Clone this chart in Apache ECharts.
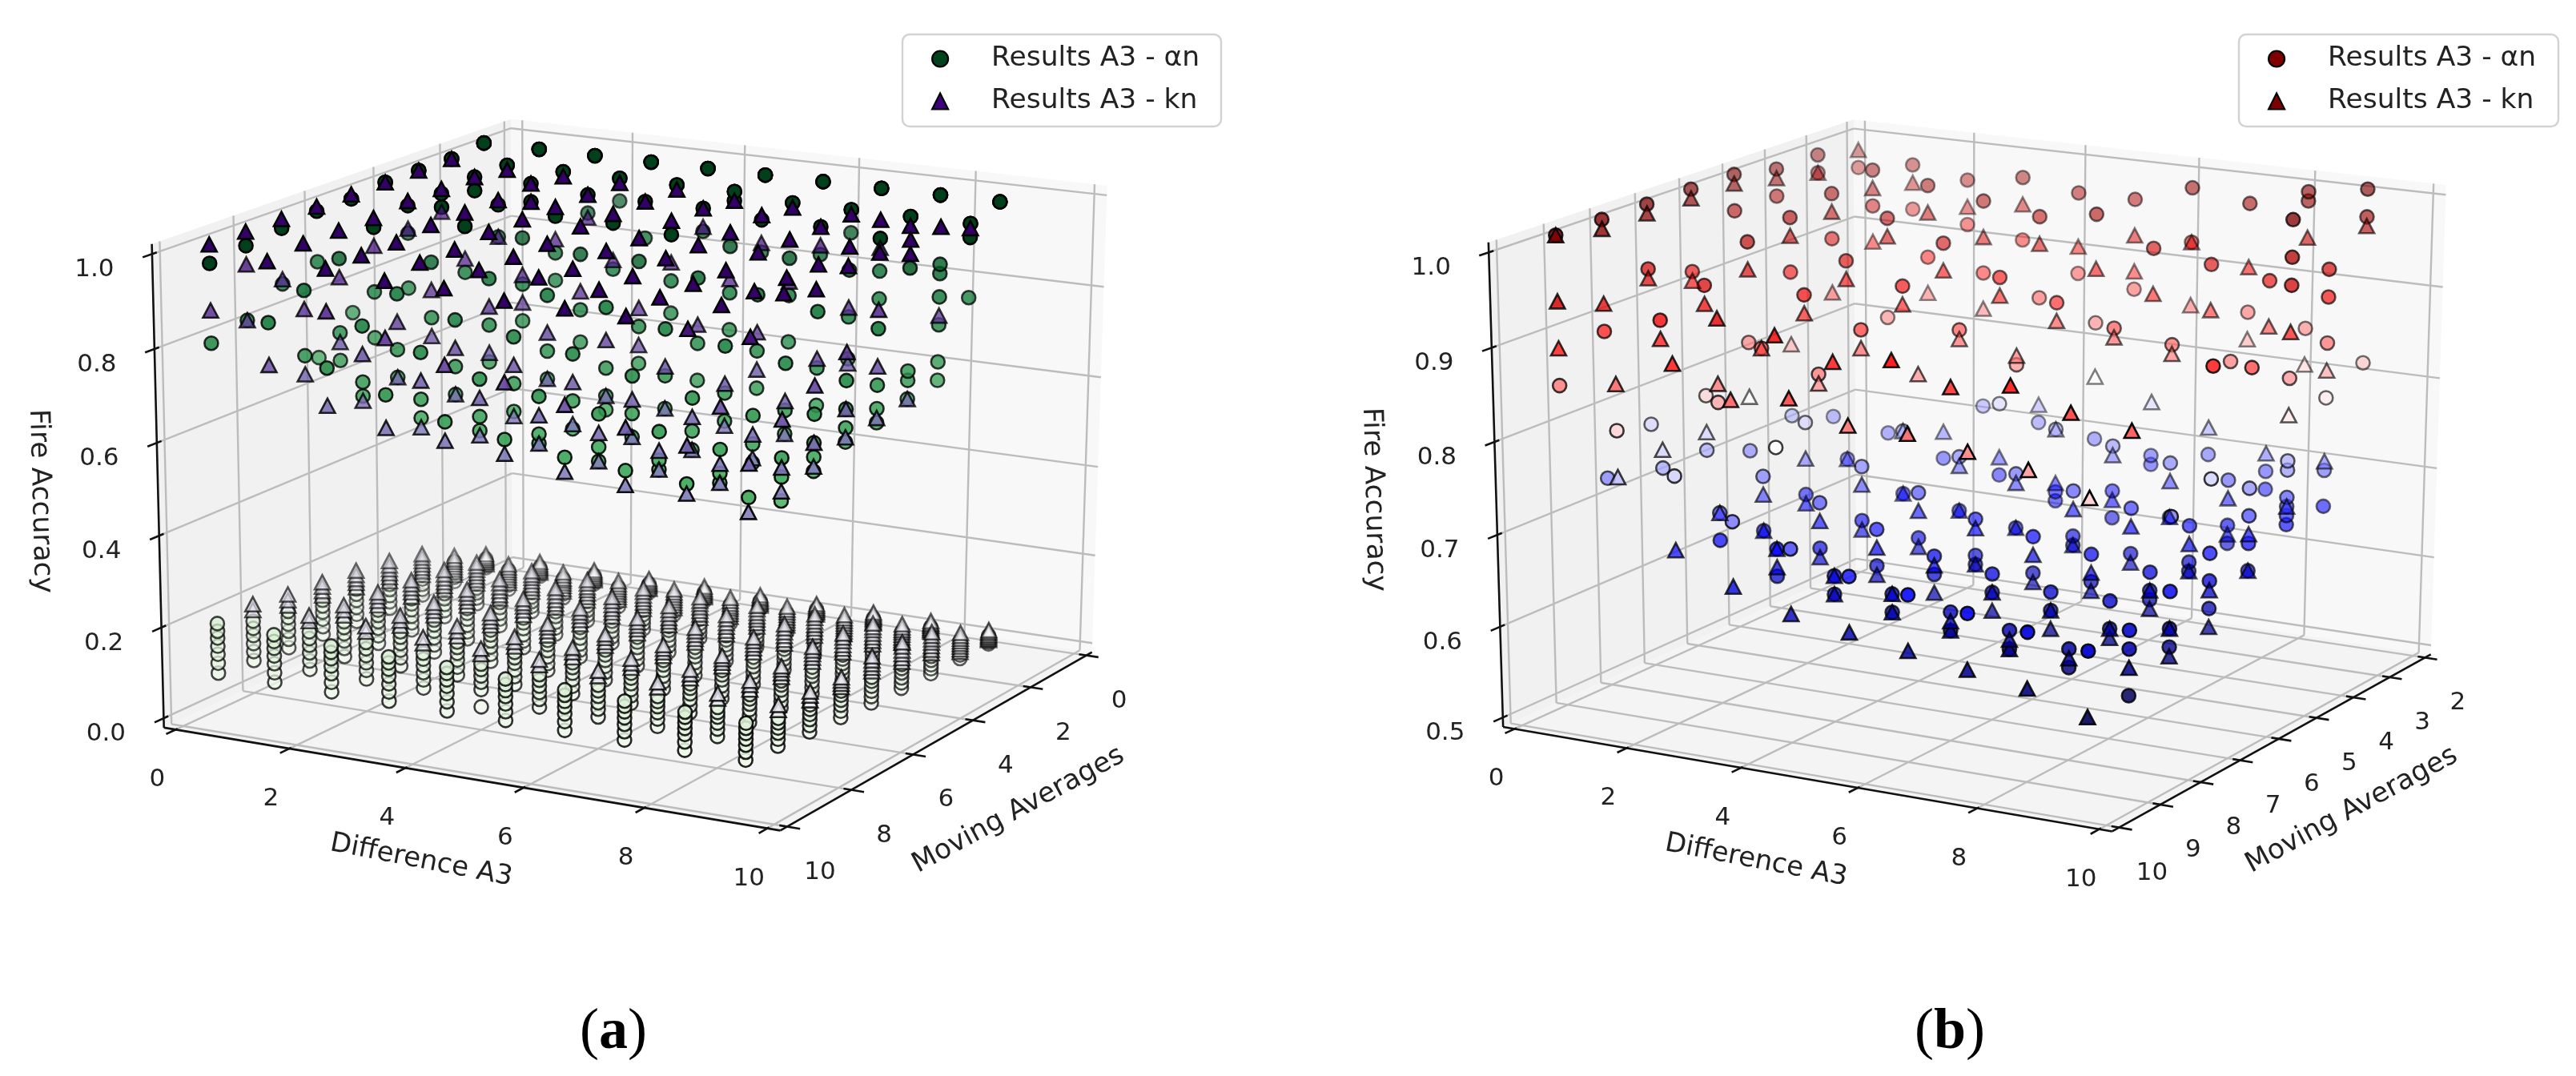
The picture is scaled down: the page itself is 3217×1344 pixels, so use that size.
<!DOCTYPE html>
<html><head><meta charset="utf-8">
<style>html,body{margin:0;padding:0;background:#fff}#c{width:3217px;height:1344px}</style>
<script src="https://cdn.jsdelivr.net/npm/echarts@6/dist/echarts.min.js"></script>
</head><body><div id="c"></div>
<script>
// ---------- tick labels ----------
const xTicks=[0,2,4,6,8,10];
const yTicksA=[0,2,4,6,8,10];
const zTicksA=[0,0.2,0.4,0.6,0.8,1.0];
const yTicksB=[2,3,4,5,6,7,8,9,10];
const zTicksB=[0.5,0.6,0.7,0.8,0.9,1.0];
const seriesNames=['Results A3 - αn','Results A3 - kn'];
// ---------- data: rows are Moving Averages, columns are Difference A3 = 0..9 ----------
// Panel (a), upper cloud, Fire Accuracy x100, rows start at Moving Averages = 1
const aCirclesHigh=[
[[100,100,100],[100,100,100],[100,100,100],[100,100,100],[100,100,100],[100,100,100],[100,100,100],[100,100,100],[100,100,100],[100,100,100]],
[[99,99],[99,99],[99,99],[99,99,94],[99,99],[99,99,97],[98,98],[98,98,93],[98,98],[98,98,95,82]],
[[99,99],[99,96],[99,95],[98,94],[98,90],[98,93],[97,90],[97,91],[96,89,83],[92,90,85,79,71,67]],
[[99,99],[98,95],[97,90],[96,88,82],[96,86],[95,85,78],[94,84,76],[93,85,75],[92,82,73],[94,72,70,66]],
[[98,98,73],[98,92,80],[95,85],[94,84,76],[92,80,73],[92,78,70],[90,76,68],[88,76,68],[86,74,66],[84,72,67,64]],
[[98,87,66],[96,82,72],[90,78],[88,78,70],[86,74,68],[85,72,66,63],[82,72,65],[80,70,64],[78,68,63],[76,70,66,63]],
[[97,85],[92,76,70],[86,74,68],[82,72,66],[80,70,64],[78,68,62],[75,67,62],[72,65,61],[70,64,60],[72,66,63,60]],
[[96,80],[88,74],[82,70,67],[78,68,64],[74,66,63],[72,64,62],[70,63,60],[68,62,60],[66,61,59],[66,62,57]],
[[95,78],[84],[76],[72],[68],[66],[64],[63],[62],[61]]];
const aTrianglesHigh=[
[[],[],[],[],[],[],[],[],[],[]],
[[99],[98],[98],[98],[98],[97],[97],[97],[96],[97]],
[[99],[99],[99,95],[98,93],[98],[98,94],[98,92],[97,93],[100,94],[100,81]],
[[99],[99,94],[98,90],[98,91],[98,88],[98,89],[97,87],[97,88],[97,84,72],[100,97,66]],
[[99],[99,93],[98,88],[98,86,80],[98,84],[97,82,74],[97,80],[97,80,72],[96,76],[100,88,76,65]],
[[99],[98,92],[98,84,74],[98,82,72],[97,78,68],[97,78,66],[97,74,65],[96,72,63],[96,70,63],[100,82,70,64]],
[[99,86],[98,88,74],[97,80,68],[97,76,66],[97,74,63],[96,72,63],[96,70,62],[96,68,61],[96,66,61],[98,78,66,61]],
[[99,92,80],[98,84,70],[97,76,66],[97,72,62],[97,70,62],[97,68,62],[96,66,60],[96,64,60],[96,75,63,59],[100,74,64,59]],
[[99,85],[97,75],[97,88,68],[96,84,65],[96,80,64],[95,78,63],[95,75,61],[95,72,60],[94,70,60],[94,68,58]]];
// Panel (a), lower cloud, Fire Accuracy x1000
const aCirclesLow=[
[[20,25,29,33,37,41],[19,24,28,32,36,40],[20,24,29,33,36,40],[19,23,27,31,35,39],[18,23,27,32,35,39],[19,23,28,31,35,38],[18,22,27,30,34,38],[18,23,26,30,33,37],[18,22,26,29,33,36],[17,21,25,29,32,36]],
[[22,32,42,51,60,68],[23,33,42,52,60,67],[22,31,41,50,59,66],[21,31,40,49,57,65],[22,30,40,48,56,64],[21,30,39,47,56,63],[20,30,38,46,55,62],[21,29,38,46,54,61],[20,29,37,45,53,60],[20,28,36,44,52,59]],
[[25,38,50,62,72,82],[24,37,49,60,71,80],[25,37,48,59,70,79],[24,36,47,58,69,78],[24,36,46,57,67,76],[23,35,46,56,66,75],[23,34,45,55,65,74],[23,34,44,54,64,72],[22,33,43,53,62,71],[22,33,42,52,61,70]],
[[29,44,58,72,84,95],[29,43,57,70,82,93],[28,43,56,69,81,91],[28,42,55,68,79,89],[28,41,54,66,77,87],[27,41,53,65,76,85],[27,40,52,63,74,84],[27,39,51,62,73,82],[26,39,50,61,71,80],[26,38,49,60,70,79]],
[[34,50,66,82,96,108],[34,50,65,80,93,105],[33,49,64,78,91,102],[33,48,62,76,89,100],[32,47,61,74,87,98],[32,47,60,73,85,96],[31,46,59,72,83,93],[31,45,58,70,81,91],[30,44,57,69,79,89],[30,44,56,67,78,87]],
[[40,57,74,90,104,117],[39,56,73,88,102,114],[39,55,71,86,100,111],[38,54,70,84,97,108],[38,53,68,82,95,105],[37,53,67,80,92,103],[37,52,65,78,90,100],[36,51,64,77,88,98],[36,50,63,75,86,95],[35,49,62,73,84,93]],
[[45,64,82,98,113,127],[45,63,80,96,110,123],[44,62,79,94,108,120],[44,61,77,92,105,117],[43,60,75,90,102,114],[43,59,74,88,100,111],[42,58,72,85,97,108],[42,57,71,83,95,105],[41,56,69,81,92,102],[41,55,68,79,90,100]],
[[52,72,90,108,124,140],[52,71,89,106,121,136],[51,70,87,103,118,132],[51,69,85,101,115,128],[30,68,84,98,112,124],[50,67,82,96,109,121],[49,66,80,94,106,118],[49,65,79,92,103,114],[48,64,77,90,100,111],[48,63,76,87,98,108]],
[[60,82,102,120,138,153,170],[60,81,101,118,135,150,165],[59,80,99,116,132,146,160],[59,79,97,114,129,143,156],[58,78,96,112,126,140,153],[58,77,94,110,123,136,148],[57,76,93,108,120,133,145],[57,75,91,105,118,130,141],[56,74,90,103,115,127,138],[56,73,88,101,113,124,135]]];
const aTrianglesLow=[
[[28,31,34,37,40,43,47,52],[27,30,33,37,40,44,48,53],[28,31,34,37,41,44,48,52],[27,30,34,37,40,43,47,51],[27,30,33,36,40,43,47,52],[27,30,33,36,39,43,46,51],[26,30,33,36,39,42,46,50],[26,29,33,36,39,42,46,50],[26,29,32,35,39,42,45,50],[26,29,32,35,38,42,45,49]],
[[38,44,50,56,62,68,74,82],[38,44,50,56,62,68,74,81],[37,43,50,56,62,67,74,81],[37,43,49,55,61,67,73,80],[37,43,49,55,61,67,73,80],[36,43,49,55,60,66,73,80],[36,42,48,54,60,66,72,79],[36,42,48,54,60,66,72,79],[36,42,48,54,60,65,71,78],[35,41,47,53,59,65,71,78]],
[[72,80,88,96,104,112,120],[71,79,87,95,103,111,119],[71,79,87,95,103,110,118],[70,78,86,94,101,109,117],[70,78,85,93,101,109,117],[69,77,85,93,101,108,116],[69,77,85,92,100,108,116],[68,76,84,92,100,108,116],[68,76,84,92,100,107,115],[68,76,84,92,99,107,115]],
[[92,101,110,119,128,138],[91,100,108,117,126,136],[90,98,107,116,125,134],[89,97,106,115,124,133],[88,97,105,114,123,132],[88,96,104,113,122,131],[87,95,104,112,121,130],[86,94,103,111,120,129],[86,94,102,111,119,128],[85,93,102,110,119,128]],
[[112,122,131,140,150],[110,120,129,138,147],[109,118,127,136,145],[107,117,126,134,143],[106,115,124,132,141],[105,114,122,130,139],[104,112,121,129,137],[102,111,119,127,135],[101,110,118,126,134],[100,108,116,124,133]],
[[128,138,148,158],[125,135,145,154],[122,132,141,150],[119,128,137,146],[116,125,134,142],[113,121,130,138],[110,118,126,134],[107,115,123,130],[104,112,120,127],[102,109,116,123]],
[[140,152,165],[137,149,160],[134,145,156],[130,141,152],[127,137,148],[123,134,144],[120,130,140],[117,126,136],[113,123,132],[110,120,129]],
[[165,178],[160,172],[156,168],[150,163],[146,158],[142,154],[138,150],[134,145],[130,141],[126,137]],
[[],[],[],[],[],[],[],[],[],[]]];
// Panel (b), Fire Accuracy x100, rows start at Moving Averages = 2
const bCircles=[
[[96],[97,92],[96,91],[97,90],[96,87],[96,86],[98,92],[97,85],[99,98,84],[100,97,81]],
[[99,97],[98,94],[97,89],[96,88,73],[95,86,72],[96,84,71],[93,70,69],[92,71],[91,70,68],[93,90,85,79,71,67]],
[[99,96],[97,92,72],[95,84,71],[93,69],[90,76,68],[88,74,67,66],[86,73,68,65],[85,72,66],[84,71,66,64],[100,96,93,83,74,73,70,69,68,67]],
[[100,96],[96,90,74],[92,70],[90,74,67],[86,72,66],[83,71,65],[70,65,64],[69,64],[68,64,63],[86,73,70,67,64]],
[[100,91],[95,84,72],[90,76,68],[87,72,66],[70,65],[68,64,63],[67,63],[66,63],[65,63,62],[88,76,68,65,62]],
[[100,93,76],[92,80,74],[86,72,66],[84,70,65],[68,64],[66,64],[65,63],[64,62],[64,61],[74,66,62,60]],
[[100,88,72],[90,74],[82,70,67],[78,67,64],[65,63],[64,62],[63,61],[62,60],[61,59],[64,62,57]],
[[100,84],[80],[76],[72],[70],[68],[67],[66],[65],[64]]];
const bTriangles=[
[[98],[95],[93],[94],[90],[92,88],[92,85],[90,82],[94,80],[96]],
[[97],[96,90],[94,85],[92,84],[92,74],[90,78],[88,76],[87,74],[86,72],[82,72]],
[[98],[95,86],[93],[90,72],[88,70],[86,74,68],[85,72,67],[84,70,66],[69,65],[88,79,69]],
[[99],[94,82],[90,70],[88,74,67],[85,71,66],[84,70,65],[68,64],[67,63],[66,63],[68,64]],
[[99,90],[92,78],[88,72,67],[85,70,65],[83,68,64],[67,63],[65,62],[64,62],[63,61],[64,60]],
[[99,92],[90,76],[86,70,66],[83,68,64],[66,63],[65,62],[63,61],[62,60],[61,60],[62,59]],
[[99,91],[88,76],[91,84,70],[90,67,65],[88,65,63],[89,64,62],[87,62,61],[88,61,60],[86,60],[85,60]],
[[100,93,88],[85,75],[88,68],[85,65],[86,63],[84,62],[84,61],[83,60],[82,59],[80,57]]];

// ---------- colour maps ----------
const greens=['#f7fcf5','#e5f5e0','#c7e9c0','#a1d99b','#74c476','#41ab5d','#238b45','#006d2c','#00401a'];
const purples=['#fcfbfd','#efedf5','#dadaeb','#bcbddc','#9e9ac8','#807dba','#6a51a3','#54278f','#330068'];
const seismic=['#00004c','#0000ff','#ffffff','#ff0000','#7f0000'];
function mapColor(stops,t){t=Math.max(0,Math.min(1,t));const f=t*(stops.length-1),i=Math.min(stops.length-2,Math.floor(f)),k=f-i;
 const h=s=>[1,3,5].map(j=>parseInt(s.substr(j,2),16));const a=h(stops[i]),b=h(stops[i+1]);
 return 'rgb('+a.map((v,j)=>Math.round(v+(b[j]-v)*k)).join(',')+')';}

// ---------- camera: a projective map fitted to where the pane corners and ticks sit ----------
function fitCamera(pts){const n=11,M=Array.from({length:n},()=>Array(n+1).fill(0));
 const add=(r,v)=>{for(let i=0;i<n;i++){for(let j=0;j<n;j++)M[i][j]+=r[i]*r[j];M[i][n]+=r[i]*v;}};
 pts.forEach(([X,Y,Z,u,v])=>{add([X,Y,Z,1,0,0,0,0,-u*X,-u*Y,-u*Z],u);add([0,0,0,0,X,Y,Z,1,-v*X,-v*Y,-v*Z],v);});
 for(let i=0;i<n;i++)M[i][i]+=1e-7;
 for(let i=0;i<n;i++){let p=i;for(let r=i+1;r<n;r++)if(Math.abs(M[r][i])>Math.abs(M[p][i]))p=r;[M[i],M[p]]=[M[p],M[i]];
  for(let r=0;r<n;r++)if(r!==i){const f=M[r][i]/M[i][i];for(let c=i;c<=n;c++)M[r][c]-=f*M[i][c];}}
 return M.map((r,i)=>r[n]/r[i]);}

function buildPanel(cfg){
 const pad=l=>(l[1]-l[0])/48;
 const nx=v=>(v-cfg.xLim[0]+pad(cfg.xLim))/(cfg.xLim[1]-cfg.xLim[0]+2*pad(cfg.xLim));
 const ny=v=>(v-cfg.yLim[0]+pad(cfg.yLim))/(cfg.yLim[1]-cfg.yLim[0]+2*pad(cfg.yLim));
 const nz=v=>(v-cfg.zLim[0]+pad(cfg.zLim))/(cfg.zLim[1]-cfg.zLim[0]+2*pad(cfg.zLim));
 const res=(v,f)=>v==='lo'?0:v==='hi'?1:f(v);
 const cam=fitCamera(cfg.anchors.map(([x,y,z,u,v])=>[res(x,nx),res(y,ny),res(z,nz),u,v]));
 const proj=(X,Y,Z)=>{const w=cam[8]*X+cam[9]*Y+cam[10]*Z+1;
  return [(cam[0]*X+cam[1]*Y+cam[2]*Z+cam[3])/w,(cam[4]*X+cam[5]*Y+cam[6]*Z+cam[7])/w];};
 const depth=(X,Y,Z)=>-(0.427*X+0.837*Y+0.34*Z);
 const polys=[[[0,0,0],[0,1,0],[0,1,1],[0,0,1]],[[0,0,0],[1,0,0],[1,0,1],[0,0,1]],[[0,0,0],[1,0,0],[1,1,0],[0,1,0]]]
   .map((q,i)=>({pts:q.map(p=>proj(...p)),fill:['#f1f1f1','#f8f8f8','#f4f4f4'][i]}));
 const grid=[],axis=[],labels=[];
 const seg=(list,a,b)=>list.push([...proj(...a),...proj(...b)]);
 cfg.yTicks.forEach(t=>{const Y=ny(t);seg(grid,[0,Y,0],[0,Y,1]);seg(grid,[0,Y,0],[1,Y,0]);
   seg(axis,[1-0.012,Y,0],[1+0.02,Y,0]);
   const p=proj(1,Y,0);labels.push({t:String(t),x:p[0]+41,y:p[1]+57});});
 xTicks.forEach(t=>{const X=nx(t);seg(grid,[X,0,0],[X,0,1]);seg(grid,[X,0,0],[X,1,0]);
   seg(axis,[X,1-0.005,0],[X,1+0.025,0]);
   const p=proj(X,1,0);labels.push({t:String(t),x:p[0]-23,y:p[1]+63});});
 cfg.zTicks.forEach(t=>{const Z=nz(t);seg(grid,[0,0,Z],[0,1,Z]);seg(grid,[0,0,Z],[1,0,Z]);
   seg(axis,[0,1+0.024,Z],[0,1-0.012,Z]);
   const p=proj(0,1,Z);labels.push({t:t.toFixed(1),x:p[0]-72,y:p[1]+20});});
 seg(axis,[0,1,0],[0,1,1]);seg(axis,[0,1,0],[1,1,0]);seg(axis,[1,1,0],[1,0,0]);
 labels.push(...cfg.titles);
 let dAll=[];
 const mk=(pts,map)=>pts.map(([x,y,z])=>{const X=nx(x),Y=ny(y),Z=nz(z),d=depth(X,Y,Z);dAll.push(d);
   const dark=z>=cfg.darkFrom;
   return {p:proj(X,Y,Z),d,dark,color:mapColor(map,dark?1:(z-cfg.vmin)/(1-cfg.vmin))};});
 const c=mk(cfg.circles,cfg.mapA),t=mk(cfg.triangles,cfg.mapB);
 const dMin=Math.min(...dAll),dMax=Math.max(...dAll);
 const toData=list=>list.slice().sort((a,b)=>b.d-a.d).map(o=>({value:o.p,itemStyle:{color:o.color,borderColor:'#000',borderWidth:2.6,
   opacity:o.dark?1:1-cfg.fade*(o.d-dMin)/(dMax-dMin)}}));
 return {polys,grid,axis,labels,cData:toData(c),tData:toData(t)};
}
const expand=(rows,firstY,scale)=>{const out=[];rows.forEach((row,r)=>row.forEach((list,x)=>list.forEach(v=>out.push([x,firstY+r,v/scale]))));return out;};

const font='"DejaVu Sans"';
const panelA=buildPanel({
 xLim:[0,10],yLim:[0,10],zLim:[0,1],yTicks:yTicksA,zTicks:zTicksA,vmin:-0.02,darkFrom:0.945,fade:0.55,mapA:greens,mapB:purples,
 circles:[...expand(aCirclesLow,1,1000),...expand(aCirclesHigh,1,100)],
 triangles:[...expand(aTrianglesLow,1,1000),...expand(aTrianglesHigh,1,100)],
 anchors:[['lo','hi','lo',206,907],['hi','hi','lo',971,1035],['hi','lo','lo',1363,808],['lo','lo','lo',636,700],['lo','hi','hi',189,302],['lo','lo','hi',638,150],['hi','lo','hi',1381,231],
  ['lo','hi',0,208,899],['lo','hi',0.2,201,786],['lo','hi',0.4,198,670],['lo','hi',0.6,196,554],['lo','hi',0.8,193,437],['lo','hi',1,191,316],
  [0,'hi','lo',215,911],[2,'hi','lo',364,936],[4,'hi','lo',507,960],[6,'hi','lo',653,985],[8,'hi','lo',802,1008],[10,'hi','lo',955,1033],
  ['hi',10,'lo',985,1032],['hi',8,'lo',1067,986],['hi',6,'lo',1143,943],['hi',4,'lo',1215,902],['hi',2,'lo',1287,863],['hi',0,'lo',1358,822],
  [2,'lo',1,790,177],[4,'lo',1,931,193],[6,'lo',1,1073,209],[8,'lo',1,1219,226],[10,'lo',1,1366,243],
  ['lo',0,1,630,161],['lo',0,0.8,630,273],['lo',0,0.6,630,382],['lo',0,0.4,632,491],['lo',0,0.2,633,597]],
 titles:[{t:'Difference A3',x:526,y:1075,r:-11,s:34},{t:'Moving Averages',x:1272,y:1012,r:28.5,s:34.5},{t:'Fire Accuracy',x:50,y:626,r:-88.5,s:34.5}]
});
const panelB=buildPanel({
 xLim:[0,10],yLim:[2,10],zLim:[0.5,1],yTicks:yTicksB,zTicks:zTicksB,vmin:0.56,darkFrom:2,fade:0.62,mapA:seismic,mapB:seismic,
 circles:expand(bCircles,2,100),triangles:expand(bTriangles,2,100),
 anchors:[['lo','hi','lo',1882,907],['hi','hi','lo',2633,1035],['hi','lo','lo',3034,808],['lo','lo','lo',2316,705],['lo','hi','hi',1858,300],['lo','lo','hi',2315,150],['hi','lo','hi',3055,232],
  ['lo','hi',0.5,1880,899],['lo','hi',0.6,1872,785],['lo','hi',0.7,1871,668],['lo','hi',0.8,1865,553],['lo','hi',0.9,1862,435],['lo','hi',1,1861,314],
  [0,'hi','lo',1891,911],[2,'hi','lo',2030,936],[4,'hi','lo',2171,960],[6,'hi','lo',2320,984],[8,'hi','lo',2465,1008],[10,'hi','lo',2623,1033],
  ['hi',10,'lo',2647,1033],['hi',9,'lo',2700,1005],['hi',8,'lo',2750,977],['hi',7,'lo',2800,950],['hi',6,'lo',2848,924],['hi',5,'lo',2894,899],['hi',4,'lo',2939,874],['hi',3,'lo',2984,850],['hi',2,'lo',3030,824],
  [0,'lo',1,2330,163],[2,'lo',1,2465,177],[4,'lo',1,2604,193],[6,'lo',1,2746,211],[8,'lo',1,2891,224],[10,'lo',1,3038,243],
  ['lo',2,1,2307,161],['lo',2,0.9,2307,273],['lo',2,0.8,2310,382],['lo',2,0.7,2307,491],['lo',2,0.6,2309,597]],
 titles:[{t:'Difference A3',x:2193,y:1075,r:-11,s:34},{t:'Moving Averages',x:2937,y:1012,r:28.5,s:34.5},{t:'Fire Accuracy',x:1715,y:624,r:-88.5,s:34.5}]
});

const series=[];
const deco=(name,data,z,item)=>({type:'custom',name,coordinateSystem:'cartesian2d',silent:true,z,clip:false,data,encode:{x:0,y:1},renderItem:item,animation:false});
[panelA,panelB].forEach(P=>{
 series.push(deco('panes',P.polys.map(p=>p.pts[0]),1,(params,api)=>({type:'polygon',shape:{points:P.polys[params.dataIndex].pts.map(q=>api.coord(q))},style:{fill:P.polys[params.dataIndex].fill}})));
 const lineItem=(stroke,width)=>(params,api)=>{const a=api.coord([api.value(0),api.value(1)]),b=api.coord([api.value(2),api.value(3)]);
   return {type:'line',shape:{x1:a[0],y1:a[1],x2:b[0],y2:b[1]},style:{stroke,lineWidth:width}};};
 series.push(deco('grid',P.grid,2,lineItem('#bcbcbc',2.4)));
 series.push(deco('axes',P.axis,3,lineItem('#111',2.6)));
 series.push(deco('labels',P.labels.map(l=>[l.x,l.y]),3,(params,api)=>{const l=P.labels[params.dataIndex],c=api.coord([l.x,l.y]);
   return {type:'text',x:c[0],y:c[1],rotation:(l.r||0)*Math.PI/180,style:{text:l.t,fontFamily:font,fontSize:l.s||31,fill:'#222',align:'center',verticalAlign:'middle'}};}));
 series.push({type:'scatter',name:seriesNames[0],symbol:'circle',symbolSize:17,data:P.cData,z:5,silent:true,clip:false,animation:false,large:false});
 series.push({type:'scatter',name:seriesNames[1],symbol:'triangle',symbolSize:[19,18],data:P.tData,z:6,silent:true,clip:false,animation:false,large:false});
});
const boxes=[[1127,43,398,115],[2796,43,399,115]];
series.push(deco('legendBoxes',boxes.map(b=>[b[0],b[1]]),7,(params,api)=>{const b=boxes[params.dataIndex],c=api.coord([b[0],b[1]]);
  return {type:'rect',shape:{x:c[0],y:c[1],width:b[2],height:b[3],r:9},style:{fill:'rgba(255,255,255,0.85)',stroke:'#d2d2d2',lineWidth:2.4}};}));
const captions=[{l:'a',x:766,y:1290},{l:'b',x:2435,y:1290}];
series.push(deco('captions',captions.map(c=>[c.x,c.y]),7,(params,api)=>{const k=captions[params.dataIndex],c=api.coord([k.x,k.y]);
  return {type:'text',x:c[0],y:c[1],style:{text:'{n|(}{b|'+k.l+'}{n|)}',align:'center',verticalAlign:'middle',
    rich:{n:{fontFamily:'"Liberation Serif"',fontWeight:'normal',fontSize:72,fill:'#000'},b:{fontFamily:'"Liberation Serif"',fontWeight:'bold',fontSize:72,fill:'#000'}}}};}));

const mkLegend=(left,c1,c2)=>({left,top:56,orient:'vertical',itemWidth:20,itemHeight:20,itemGap:18,selectedMode:false,z:9,padding:0,
 textStyle:{fontFamily:font,fontSize:34.5,color:'#222',padding:[0,0,0,49]},
 data:[{name:seriesNames[0],icon:'circle',itemStyle:{color:c1,borderColor:'#000',borderWidth:2.2,opacity:1}},
       {name:seriesNames[1],icon:'triangle',itemStyle:{color:c2,borderColor:'#000',borderWidth:2.2,opacity:1}}]});
const chart=echarts.init(document.getElementById('c'));
chart.setOption({animation:false,backgroundColor:'#fff',
 grid:{left:0,right:0,top:0,bottom:0},
 xAxis:{type:'value',min:0,max:3217,show:false},
 yAxis:{type:'value',min:0,max:1344,inverse:true,show:false},
 legend:[mkLegend(1163,'#00441b','#3f007d'),mkLegend(2832,'#7f0000','#7f0000')],
 series});
</script></body></html>
